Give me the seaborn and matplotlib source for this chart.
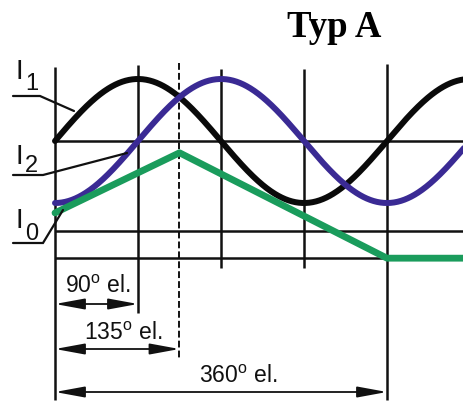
import numpy as np
import pandas as pd
import matplotlib
matplotlib.use("Agg")
import matplotlib.pyplot as plt
import seaborn as sns
from matplotlib.patches import FancyArrowPatch

# ---------------- data ----------------
title_text = "Typ A"
series_names = ["I1", "I2", "I0"]
I1_amplitude = 1.0
I1_peak_deg = 90.0
I2_amplitude = 1.0
I2_peak_deg = 180.0
I0_deg = [0, 135, 360, 445]
I0_val = [-1.16, -0.19, -1.89, -1.89]
grid_deg = [0, 90, 180, 270, 360]
marker_deg = 135
hgrid_val = [0.0, -1.45, -1.89]
dim_deg = [90, 135, 360]
dim_labels = ["90", "135", "360"]

# ---------------- layout helpers (pixel -> data) ----------------
sns.set_theme(style="white")
plt.rcParams["font.family"] = ["Liberation Sans", "DejaVu Sans"]
plt.rcParams["mathtext.fontset"] = "custom"
plt.rcParams["mathtext.rm"] = "Liberation Sans"

W, H = 464, 403
X0, Y0 = 55, 141
PPD = 83 / 90.0
PPU = 62.0


def dx(px):
    return (px - X0) / PPD


def dy(py):
    return (Y0 - py) / PPU


fig = plt.figure(figsize=(W / 100, H / 100), dpi=100)
ax = fig.add_axes([0, 0, 1, 1])

GRID_C = "#111111"
GRID_LW = 1.8

# vertical grid lines (deg, top px, bottom px)
vspan = {0: (67, 400), 90: (65, 313), 180: (69, 268), 270: (69, 268), 360: (64, 400)}
for d in grid_deg:
    t, b = vspan[d]
    ax.plot([d, d], [dy(t), dy(b)], color=GRID_C, lw=GRID_LW, solid_capstyle="butt", zorder=1)
ax.plot([marker_deg, marker_deg], [dy(63), dy(358)], color=GRID_C, lw=1.4,
        dashes=(3.5, 1.6), zorder=1)

# horizontal grid lines
for v in hgrid_val:
    ax.plot([0, dx(W)], [v, v], color=GRID_C, lw=GRID_LW, solid_capstyle="butt", zorder=1)

# ---------------- curves ----------------
theta = np.linspace(0, 445, 600)
df = pd.DataFrame({
    "theta": np.concatenate([theta, theta]),
    "value": np.concatenate([
        I1_amplitude * np.sin(np.radians(theta - I1_peak_deg + 90)),
        I2_amplitude * np.sin(np.radians(theta - I2_peak_deg + 90)),
    ]),
    "series": ["I1"] * len(theta) + ["I2"] * len(theta),
})
df0 = pd.DataFrame({"theta": I0_deg, "value": I0_val})

sns.lineplot(data=df[df.series == "I1"], x="theta", y="value", color="#0a0a0a",
             lw=4.3, ax=ax, zorder=3)
sns.lineplot(data=df[df.series == "I2"], x="theta", y="value", color="#3a2a94",
             lw=4.3, ax=ax, zorder=4)
sns.lineplot(data=df0, x="theta", y="value", color="#1a9c5c", lw=4.9, ax=ax, zorder=5)
ax.set_xlim(dx(0), dx(W))
ax.set_ylim(dy(H), dy(0))
ax.axis("off")

# ---------------- leader lines and labels ----------------
leaders = [
    [(13, 96), (40, 96), (74, 111)],
    [(13, 175), (43, 175), (127, 153)],
    [(13, 243), (43, 243), (63, 210)],
]
for pts in leaders:
    ax.plot([dx(p[0]) for p in pts], [dy(p[1]) for p in pts], color=GRID_C, lw=1.6,
            zorder=6, solid_joinstyle="miter")

label_pos = [(16, 79, 25, 90), (16, 164, 25, 172), (16, 228, 25, 240)]
for name, (ix, iy, sx, sy) in zip(series_names, label_pos):
    ax.text(dx(ix), dy(iy), "I", fontsize=20, ha="left", va="baseline", color="#111111")
    ax.text(dx(sx), dy(sy), name[1:], fontsize=17, ha="left", va="baseline", color="#111111")

# ---------------- dimension arrows ----------------
dim_y_px = [304, 349, 392]
dim_text = [(98, 293), (123, 340), (238, 383)]
for d, lab, ypx, (tx, ty) in zip(dim_deg, dim_labels, dim_y_px, dim_text):
    arr = FancyArrowPatch((0, dy(ypx)), (d, dy(ypx)),
                          arrowstyle="<|-|>,head_length=18,head_width=3.3",
                          mutation_scale=1, shrinkA=0, shrinkB=0,
                          color="#111111", lw=1.3, zorder=6)
    ax.add_patch(arr)
    ax.text(dx(tx), dy(ty), lab + r"$^{\mathrm{o}}$ el.", fontsize=16.5,
            ha="center", va="baseline", color="#111111")

# ---------------- title ----------------
fig.text(334 / W, 1 - 37 / H, title_text, ha="center", va="baseline",
         fontfamily="Liberation Serif", fontweight="bold", fontsize=26.5, color="#000000")

fig.savefig("out.png", dpi=100)
